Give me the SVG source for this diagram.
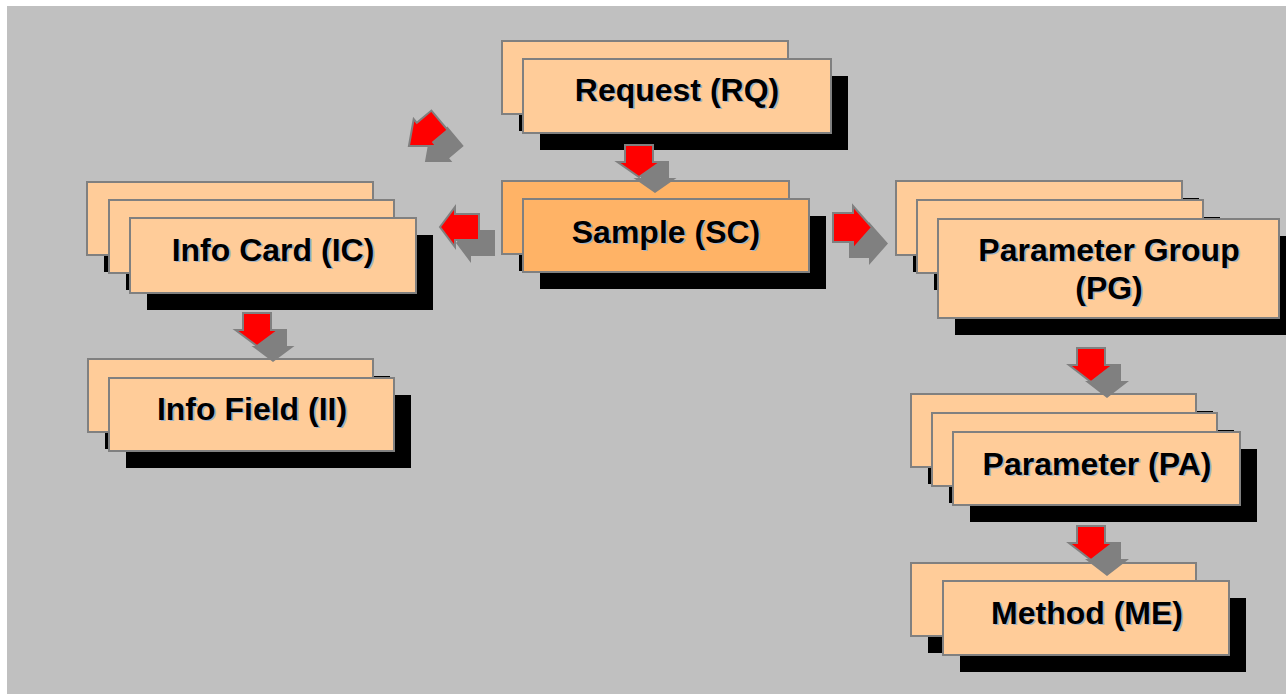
<svg xmlns="http://www.w3.org/2000/svg" width="1286" height="694" viewBox="0 0 1286 694">
<style>
.bg{fill:#C0C0C0}
.sh{fill:#000}
.card{fill:#FFCC99;stroke:#808080;stroke-width:2}
.cardS{fill:#FFB366;stroke:#808080;stroke-width:2}
.t{font-family:"Liberation Sans",Arial,sans-serif;font-weight:bold;font-size:32px;text-anchor:middle;fill:#000}
.tsh{fill:#9EB2C8}
.ar{fill:#FF0000;stroke:#808080;stroke-width:2;stroke-linejoin:miter}
.as{fill:#808080}
</style>
<rect class="bg" x="7" y="6" width="1279" height="688"/>

<g id="node-RQ">
<rect class="sh" x="519" y="58" width="286" height="73"/>
<rect class="card" x="502" y="41" width="286" height="73"/>
<rect class="sh" x="540" y="76" width="308" height="74"/>
<rect class="card" x="523" y="59" width="308" height="74"/>
<text class="t tsh" x="678.5" y="102">Request (RQ)</text>
<text class="t" x="677" y="100.5">Request (RQ)</text>
</g>

<g id="node-SC">
<rect class="sh" x="519" y="198" width="287" height="73"/>
<rect class="cardS" x="502" y="181" width="287" height="73"/>
<rect class="sh" x="540" y="216" width="286" height="73"/>
<rect class="cardS" x="523" y="199" width="286" height="73"/>
<text class="t tsh" x="667.5" y="244">Sample (SC)</text>
<text class="t" x="666" y="242.5">Sample (SC)</text>
</g>

<g id="node-IC">
<rect class="sh" x="104" y="199" width="286" height="73"/>
<rect class="card" x="87" y="182" width="286" height="73"/>
<rect class="sh" x="126" y="217" width="285" height="73"/>
<rect class="card" x="109" y="200" width="285" height="73"/>
<rect class="sh" x="147" y="235" width="286" height="75"/>
<rect class="card" x="130" y="218" width="286" height="75"/>
<text class="t tsh" x="274.5" y="262">Info Card (IC)</text>
<text class="t" x="273" y="260.5">Info Card (IC)</text>
</g>

<g id="node-II">
<rect class="sh" x="105" y="376" width="285" height="73"/>
<rect class="card" x="88" y="359" width="285" height="73"/>
<rect class="sh" x="126" y="395" width="285" height="73"/>
<rect class="card" x="109" y="378" width="285" height="73"/>
<text class="t tsh" x="253.5" y="421">Info Field (II)</text>
<text class="t" x="252" y="419.5">Info Field (II)</text>
</g>

<g id="node-PG">
<rect class="sh" x="913" y="198" width="286" height="74"/>
<rect class="card" x="896" y="181" width="286" height="74"/>
<rect class="sh" x="934" y="217" width="286" height="73"/>
<rect class="card" x="917" y="200" width="286" height="73"/>
<rect class="sh" x="955" y="236" width="341" height="99"/>
<rect class="card" x="938" y="219" width="341" height="99"/>
<text class="t tsh" x="1110.5" y="262">Parameter Group</text>
<text class="t" x="1109" y="260.5">Parameter Group</text>
<text class="t tsh" x="1110.5" y="300">(PG)</text>
<text class="t" x="1109" y="298.5">(PG)</text>
</g>

<g id="node-PA">
<rect class="sh" x="928" y="411" width="285" height="73"/>
<rect class="card" x="911" y="394" width="285" height="73"/>
<rect class="sh" x="949" y="430" width="285" height="73"/>
<rect class="card" x="932" y="413" width="285" height="73"/>
<rect class="sh" x="970" y="449" width="287" height="73"/>
<rect class="card" x="953" y="432" width="287" height="73"/>
<text class="t tsh" x="1098.5" y="476">Parameter (PA)</text>
<text class="t" x="1097" y="474.5">Parameter (PA)</text>
</g>

<g id="node-ME">
<rect class="sh" x="928" y="580" width="285" height="73"/>
<rect class="card" x="911" y="563" width="285" height="73"/>
<rect class="sh" x="960" y="598" width="286" height="74"/>
<rect class="card" x="943" y="581" width="286" height="74"/>
<text class="t tsh" x="1088.5" y="625">Method (ME)</text>
<text class="t" x="1087" y="623.5">Method (ME)</text>
</g>

<g id="connectors">
<!-- RQ -> SC -->
<g transform="translate(639,162)">
<path class="as" transform="translate(16,16)" d="M-14,-17 L14,-17 L14,0 L21.5,0 L0,15 L-21.5,0 L-14,0 Z"/>
<path class="ar" d="M-14,-17 L14,-17 L14,0 L21.5,0 L0,15 L-21.5,0 L-14,0 Z"/>
</g>
<!-- SC -> IC (left) -->
<g transform="translate(455,227)">
<path class="as" transform="translate(16,16)" d="M24,-13 L24,13 L0,13 L0,20 L-15,0 L0,-20 L0,-13 Z"/>
<path class="ar" d="M24,-13 L24,13 L0,13 L0,20 L-15,0 L0,-20 L0,-13 Z"/>
</g>
<!-- SC -> PG (right) -->
<g transform="translate(853,227.5)">
<path class="as" transform="translate(16,16)" d="M-20,-14.5 L0,-14.5 L0,-21.5 L19,0 L0,21.5 L0,14.5 L-20,14.5 Z"/>
<path class="ar" d="M-20,-14.5 L0,-14.5 L0,-21.5 L19,0 L0,21.5 L0,14.5 L-20,14.5 Z"/>
</g>
<!-- diagonal arrow -->
<g transform="translate(425,132.5)">
<path class="as" transform="translate(16,16) rotate(50)" d="M-12.7,-19 L12.7,-19 L12.7,0 L17.6,0 L0,21 L-17.6,0 L-12.7,0 Z"/>
<path class="ar" transform="rotate(50)" d="M-12.7,-19 L12.7,-19 L12.7,0 L17.6,0 L0,21 L-17.6,0 L-12.7,0 Z"/>
</g>
<!-- IC -> II -->
<g transform="translate(257,330)">
<path class="as" transform="translate(16,16)" d="M-14,-17 L14,-17 L14,0 L21.5,0 L0,16 L-21.5,0 L-14,0 Z"/>
<path class="ar" d="M-14,-17 L14,-17 L14,0 L21.5,0 L0,16 L-21.5,0 L-14,0 Z"/>
</g>
<!-- PG -> PA -->
<g transform="translate(1091,365)">
<path class="as" transform="translate(16,16)" d="M-14,-17 L14,-17 L14,0 L22,0 L0,17 L-22,0 L-14,0 Z"/>
<path class="ar" d="M-14,-17 L14,-17 L14,0 L22,0 L0,17 L-22,0 L-14,0 Z"/>
</g>
<!-- PA -> ME -->
<g transform="translate(1091,543)">
<path class="as" transform="translate(16,16)" d="M-14,-17 L14,-17 L14,0 L22,0 L0,17 L-22,0 L-14,0 Z"/>
<path class="ar" d="M-14,-17 L14,-17 L14,0 L22,0 L0,17 L-22,0 L-14,0 Z"/>
</g>
</g>
</svg>
